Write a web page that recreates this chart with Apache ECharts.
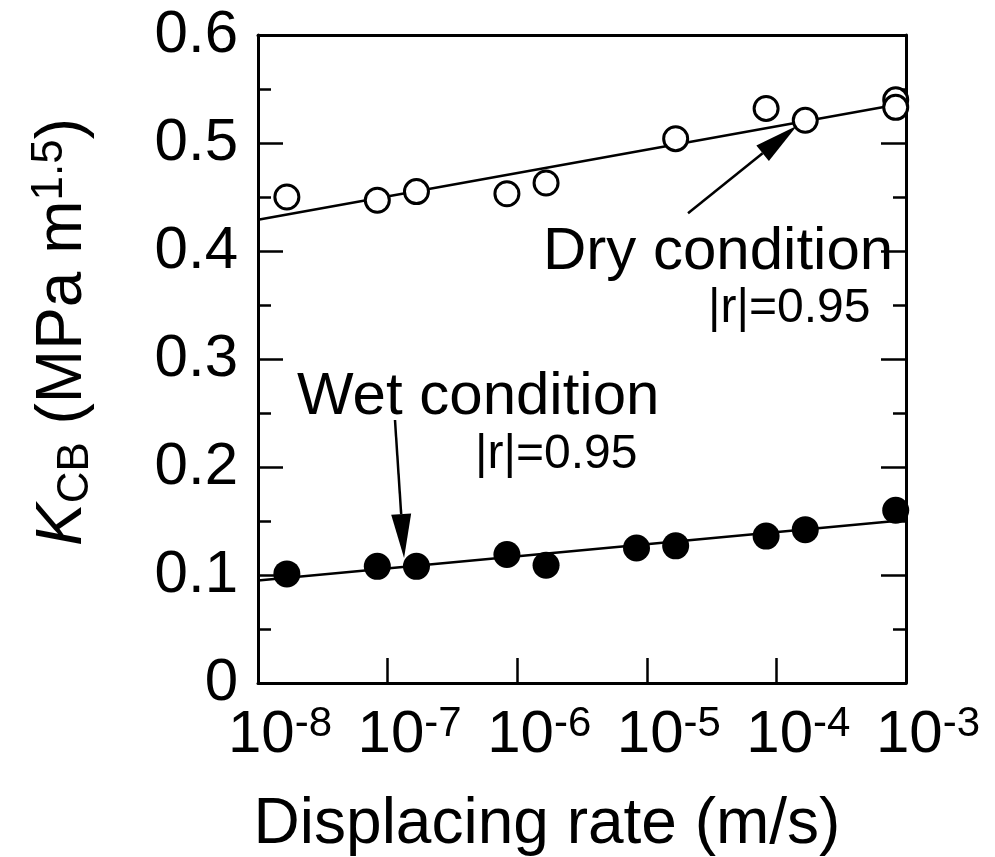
<!DOCTYPE html>
<html>
<head>
<meta charset="utf-8">
<script src="https://cdn.jsdelivr.net/npm/echarts@6/dist/echarts.min.js"></script>
<style>
  html, body { margin: 0; padding: 0; background: #fff; }
  #chart { width: 995px; height: 857px; }
</style>
</head>
<body>
<div id="chart"></div>
<script>
// displacing rate (m/s) and K_CB (MPa m^1.5)
const dryRate = [1.67e-8, 8.33e-8, 1.67e-7, 8.33e-7, 1.67e-6, 1.67e-5, 8.33e-5, 1.67e-4, 8.33e-4, 8.33e-4];
const dryK = [0.450, 0.447, 0.455, 0.453, 0.463, 0.504, 0.532, 0.521, 0.540, 0.533];
const wetRate = [1.67e-8, 8.33e-8, 1.67e-7, 8.33e-7, 1.67e-6, 8.33e-6, 1.67e-5, 8.33e-5, 1.67e-4, 8.33e-4];
const wetK = [0.101, 0.108, 0.108, 0.119, 0.109, 0.125, 0.127, 0.136, 0.142, 0.160];

// regression lines (ends at the axis limits)
const dryFit = [[1e-8, 0.429], [1e-3, 0.537]];
const wetFit = [[1e-8, 0.095], [1e-3, 0.151]];

// annotation arrows: [fromRate, fromK, toRate, toK]
const arrows = [
  [2.08e-5, 0.435, 1.44e-4, 0.516],
  [1.14e-7, 0.2435, 1.34e-7, 0.1157]
];

const xTickExp = [-8, -7, -6, -5, -4, -3];
const yTicks = [0, 0.1, 0.2, 0.3, 0.4, 0.5, 0.6];

const FONT = '"Liberation Sans", Arial, Helvetica, sans-serif';
const BLACK = '#000';

const chart = echarts.init(document.getElementById('chart'), null, {renderer: 'canvas'});

function pairs(xs, ys) {
  return xs.map((x, i) => [x, ys[i]]);
}

function xAxisDef(pos, showLabel) {
  return {
    type: 'log',
    logBase: 10,
    min: Math.pow(10, xTickExp[0]),
    max: Math.pow(10, xTickExp[xTickExp.length - 1]),
    position: pos,
    axisLine: {show: true, onZero: false, lineStyle: {color: BLACK, width: 3}},
    axisTick: {show: showLabel, inside: true, length: 25, lineStyle: {color: BLACK, width: 2.5}},
    minorTick: {show: false},
    splitLine: {show: false},
    minorSplitLine: {show: false},
    axisLabel: {
      show: showLabel,
      margin: 20,
      color: BLACK,
      padding: [0, 0, 0, 44],
      formatter: v => '{b|10}{s|' + Math.round(Math.log10(v)) + '}',
      rich: {
        b: {fontFamily: FONT, fontSize: 60, color: BLACK, lineHeight: 64},
        s: {fontFamily: FONT, fontSize: 42, color: BLACK, verticalAlign: 'top', lineHeight: 40}
      }
    }
  };
}

function yAxisDef(pos, showLabel) {
  return {
    type: 'value',
    min: yTicks[0],
    max: yTicks[yTicks.length - 1],
    interval: 0.1,
    position: pos,
    axisLine: {show: true, onZero: false, lineStyle: {color: BLACK, width: 3}},
    axisTick: {show: true, inside: true, length: 25, lineStyle: {color: BLACK, width: 2.5}},
    minorTick: {show: true, splitNumber: 2, length: 13, lineStyle: {color: BLACK, width: 2.5}},
    splitLine: {show: false},
    axisLabel: {
      show: showLabel,
      margin: 20,
      color: BLACK,
      fontFamily: FONT,
      fontSize: 60,
      formatter: v => (v === 0 ? '0' : v.toFixed(1))
    }
  };
}

const yName = yAxisDef('left', true);
yName.name = '{k|K}{sub|CB}{t| (MPa m}{sup|1.5}{t|)}';
yName.nameLocation = 'middle';
yName.nameRotate = 90;
yName.nameGap = 160;
yName.nameTextStyle = {
  padding: [0, 0, 0, 54],
  rich: {
    k: {fontFamily: FONT, fontSize: 64, fontStyle: 'italic', color: BLACK, lineHeight: 70},
    t: {fontFamily: FONT, fontSize: 64, color: BLACK, lineHeight: 70},
    sub: {fontFamily: FONT, fontSize: 44, color: BLACK, verticalAlign: 'bottom', lineHeight: 50},
    sup: {fontFamily: FONT, fontSize: 44, color: BLACK, verticalAlign: 'top', lineHeight: 40}
  }
};

const xName = xAxisDef('bottom', true);
xName.name = 'Displacing rate (m/s)';
xName.nameLocation = 'middle';
xName.nameGap = 110;
xName.nameTextStyle = {fontFamily: FONT, fontSize: 64, color: BLACK, padding: [0, 70, 0, 0]};

function renderArrow(params, api) {
  const p0 = api.coord([api.value(0), api.value(1)]);
  const p1 = api.coord([api.value(2), api.value(3)]);
  const dx = p1[0] - p0[0];
  const dy = p1[1] - p0[1];
  const len = Math.sqrt(dx * dx + dy * dy);
  const ux = dx / len, uy = dy / len;
  const headLen = 44, headHalf = 10;
  const bx = p1[0] - ux * headLen, by = p1[1] - uy * headLen;
  return {
    type: 'group',
    children: [
      {
        type: 'line',
        shape: {x1: p0[0], y1: p0[1], x2: bx, y2: by},
        style: {stroke: BLACK, lineWidth: 2.5}
      },
      {
        type: 'polygon',
        shape: {points: [
          [p1[0], p1[1]],
          [bx - uy * headHalf, by + ux * headHalf],
          [bx + uy * headHalf, by - ux * headHalf]
        ]},
        style: {fill: BLACK}
      }
    ]
  };
}

const option = {
  backgroundColor: '#fff',
  animation: false,
  grid: {left: 258, top: 35, right: 89, bottom: 174, outerBoundsMode: 'none'},
  xAxis: [xName, xAxisDef('top', false)],
  yAxis: [yName, yAxisDef('right', false)],
  series: [
    {
      type: 'line',
      data: dryFit,
      showSymbol: false,
      lineStyle: {color: BLACK, width: 2.5},
      silent: true,
      z: 2
    },
    {
      type: 'line',
      data: wetFit,
      showSymbol: false,
      lineStyle: {color: BLACK, width: 2.5},
      silent: true,
      z: 2
    },
    {
      type: 'scatter',
      data: pairs(dryRate, dryK),
      symbol: 'circle',
      symbolSize: 24,
      itemStyle: {color: '#fff', borderColor: BLACK, borderWidth: 3, opacity: 1},
      z: 3
    },
    {
      type: 'scatter',
      data: pairs(wetRate, wetK),
      symbol: 'circle',
      symbolSize: 27,
      itemStyle: {color: BLACK, opacity: 1},
      z: 3
    },
    {
      type: 'custom',
      renderItem: renderArrow,
      data: arrows,
      silent: true,
      z: 4
    }
  ],
  graphic: [
    {type: 'text', left: 543, top: 222, style: {text: 'Dry condition', font: '60px ' + FONT, fill: BLACK}},
    {type: 'text', left: 708, top: 285, style: {text: '|r|=0.95', font: '48px ' + FONT, fill: BLACK}},
    {type: 'text', left: 297, top: 367, style: {text: 'Wet condition', font: '60px ' + FONT, fill: BLACK}},
    {type: 'text', left: 475, top: 431, style: {text: '|r|=0.95', font: '48px ' + FONT, fill: BLACK}}
  ]
};

chart.setOption(option);
</script>
</body>
</html>
